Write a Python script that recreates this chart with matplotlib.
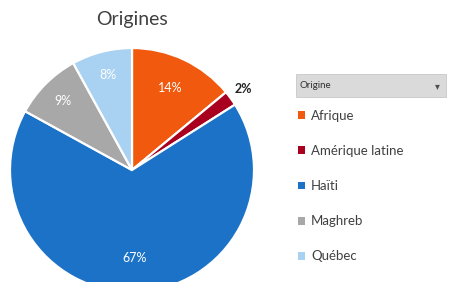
import matplotlib.pyplot as plt
from matplotlib.patches import FancyBboxPatch
import numpy as np

# data
origines = ['Afrique', 'Amérique latine', 'Haïti', 'Maghreb', 'Québec']
parts = [14, 2, 67, 9, 8]
couleurs = ['#F0590E', '#A8001E', '#1C72C6', '#A8A8A8', '#A9D1F2']
pct_couleurs = ['white', '#222222', 'white', 'white', 'white']
pct_dist = [0.74, 1.13, 0.72, 0.80, 0.80]

plt.rcParams['font.family'] = ['Lato', 'DejaVu Sans']

fig = plt.figure(figsize=(4.51, 2.82), dpi=100)

# pie axes, bottom goes off the figure like in the original
W, H = 451, 282
cx, cy, r = 132, 170, 122
ax = fig.add_axes([(cx - r) / W, (H - cy - r) / H, 2 * r / W, 2 * r / H])
wedges, _ = ax.pie(parts, colors=couleurs, startangle=90, counterclock=False,
                   radius=1, wedgeprops=dict(edgecolor='white', linewidth=1.6))
ax.set_xlim(-1, 1)
ax.set_ylim(-1, 1)
ax.set_aspect('auto')
ax.axis('off')

# percent labels
for w, p, c, d in zip(wedges, parts, pct_couleurs, pct_dist):
    ang = np.deg2rad((w.theta1 + w.theta2) / 2)
    ax.text(d * np.cos(ang), d * np.sin(ang), f'{p}%', color=c,
            ha='center', va='center', fontsize=9,
            fontweight='bold' if c != 'white' else 'normal')

fig.text(cx / W, 1 - 20 / H, 'Origines', ha='center', va='center',
         fontsize=14, color='#404040')

# field button "Origine"
btn = FancyBboxPatch((296 / W, 1 - 97 / H), 150 / W, 23 / H,
                     boxstyle='square,pad=0', transform=fig.transFigure,
                     facecolor='#DADADA', edgecolor='#C8C8C8', linewidth=0.6)
fig.add_artist(btn)
fig.text(300 / W, 1 - 86 / H, 'Origine', ha='left', va='center',
         fontsize=7, color='#303030')
fig.text(437 / W, 1 - 86 / H, '▾', ha='center', va='center',
         fontsize=7, color='#505050', family=['DejaVu Sans'])

leg = fig.legend(wedges, origines, loc='upper left',
                 bbox_to_anchor=(298 / W, 1 - 110 / H), frameon=False,
                 handlelength=0.55, handleheight=0.55, handletextpad=0.45,
                 labelspacing=1.75, fontsize=9.5, borderaxespad=0, borderpad=0)
for t in leg.get_texts():
    t.set_color('#404040')
for h in leg.legend_handles:
    h.set_edgecolor('none')

fig.savefig('out.png', dpi=100)
